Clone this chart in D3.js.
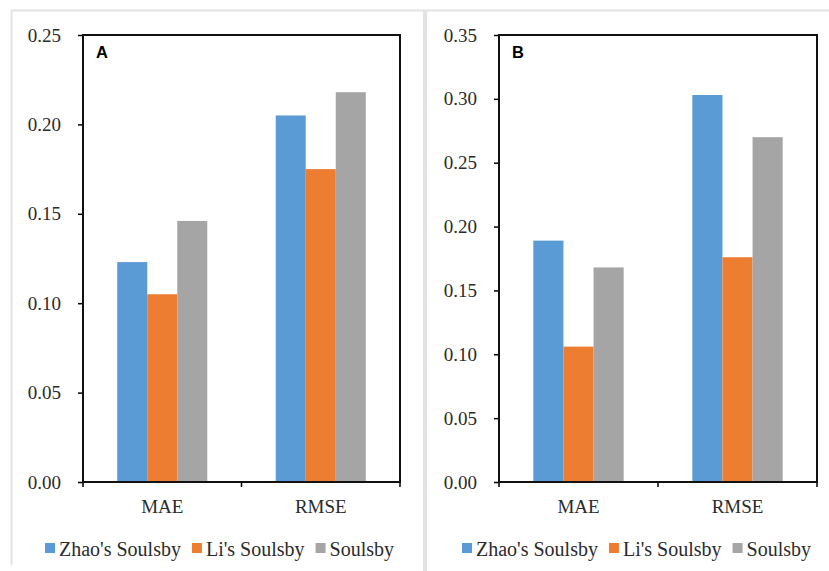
<!DOCTYPE html>
<html>
<head>
<meta charset="utf-8">
<script src="https://cdn.jsdelivr.net/npm/d3@7"></script>
<style>
  body { margin: 0; background: #fff; }
  svg { display: block; }
  .tick text { font-family: "Liberation Serif", "Times New Roman", serif; font-size: 19px; fill: #2b2b2b; }
</style>
</head>
<body>
<svg id="chart" width="829" height="571"></svg>
<script>
// data
const categories = ["MAE", "RMSE"];
const seriesNames = ["Zhao's Soulsby", "Li's Soulsby", "Soulsby"];
const seriesColors = ["#5b9bd5", "#ed7d31", "#a5a5a5"];

const zhaoA = [0.123, 0.205];
const liA = [0.105, 0.175];
const soulsbyA = [0.146, 0.218];
const ticksA = [0, 0.05, 0.10, 0.15, 0.20, 0.25];

const zhaoB = [0.189, 0.303];
const liB = [0.106, 0.176];
const soulsbyB = [0.168, 0.270];
const ticksB = [0, 0.05, 0.10, 0.15, 0.20, 0.25, 0.30, 0.35];

var svg = d3.select("#chart");
var fmt = d3.format(".2f");
var serif = "'Liberation Serif', 'Times New Roman', serif";

// light grey panel frames
svg.append("line").attr("x1", 11).attr("x2", 829).attr("y1", 10.5).attr("y2", 10.5)
  .attr("stroke", "#e3e3e3").attr("stroke-width", 2);
svg.append("line").attr("x1", 11.5).attr("x2", 11.5).attr("y1", 10).attr("y2", 565)
  .attr("stroke", "#e3e3e3").attr("stroke-width", 2);
svg.append("line").attr("x1", 425).attr("x2", 425).attr("y1", 10).attr("y2", 571)
  .attr("stroke", "#e3e3e3").attr("stroke-width", 4);

function drawPanel(letter, left, right, series, ticks, legendX) {
  var top = 35, bottom = 482;

  var y = d3.scaleLinear()
    .domain([0, d3.max(ticks)])
    .range([bottom, top]);

  var x0 = d3.scaleBand()
    .domain(categories)
    .range([left, right])
    .padding(0);

  var x1 = d3.scaleBand()
    .domain(seriesNames)
    .range([0, x0.bandwidth()])
    .paddingInner(0)
    .paddingOuter(1.14);

  var g = svg.append("g");

  // bars
  categories.forEach(function(cat, ci) {
    g.selectAll(null)
      .data(seriesNames)
      .enter()
      .append("rect")
      .attr("x", function(s) { return x0(cat) + x1(s); })
      .attr("y", function(s, si) { return y(series[si][ci]); })
      .attr("width", x1.bandwidth())
      .attr("height", function(s, si) { return bottom - y(series[si][ci]); })
      .attr("fill", function(s, si) { return seriesColors[si]; });
  });

  // y axis
  var yAxis = g.append("g")
    .attr("transform", "translate(" + left + ",0)")
    .call(d3.axisLeft(y).tickValues(ticks).tickFormat(fmt).tickSize(5).tickPadding(17));
  yAxis.select(".domain").remove();
  yAxis.selectAll(".tick line").attr("stroke", "#000").attr("stroke-width", 1.5);

  // x axis ticks at band edges
  var edges = categories.map(function(c) { return x0(c); }).concat([right]);
  g.selectAll(null)
    .data(edges)
    .enter()
    .append("line")
    .attr("x1", function(d) { return d; })
    .attr("x2", function(d) { return d; })
    .attr("y1", bottom)
    .attr("y2", bottom + 5)
    .attr("stroke", "#000")
    .attr("stroke-width", 1.5);

  // plot frame
  g.append("rect")
    .attr("x", left)
    .attr("y", top)
    .attr("width", right - left)
    .attr("height", bottom - top)
    .attr("fill", "none")
    .attr("stroke", "#111")
    .attr("stroke-width", 2);

  // category labels
  g.selectAll(null)
    .data(categories)
    .enter()
    .append("text")
    .attr("x", function(d) { return x0(d) + x0.bandwidth() / 2; })
    .attr("y", bottom + 31)
    .attr("text-anchor", "middle")
    .attr("font-family", serif)
    .attr("font-size", 19)
    .attr("fill", "#2b2b2b")
    .text(function(d) { return d; });

  // panel letter
  g.append("text")
    .attr("x", left + 13)
    .attr("y", top + 23)
    .attr("font-family", "'Liberation Sans', Arial, sans-serif")
    .attr("font-weight", "bold")
    .attr("font-size", 16.5)
    .attr("fill", "#000")
    .text(letter);

  // legend
  var lx = legendX;
  seriesNames.forEach(function(name, i) {
    g.append("rect")
      .attr("x", lx)
      .attr("y", 543)
      .attr("width", 10)
      .attr("height", 10)
      .attr("fill", seriesColors[i]);
    var t = g.append("text")
      .attr("x", lx + 14)
      .attr("y", 556)
      .attr("font-family", serif)
      .attr("font-size", 20)
      .attr("fill", "#2b2b2b")
      .text(name);
    lx += 14 + t.node().getComputedTextLength() + 11;
  });
}

drawPanel("A", 83, 400, [zhaoA, liA, soulsbyA], ticksA, 45);
drawPanel("B", 499, 817, [zhaoB, liB, soulsbyB], ticksB, 462);
</script>
</body>
</html>
